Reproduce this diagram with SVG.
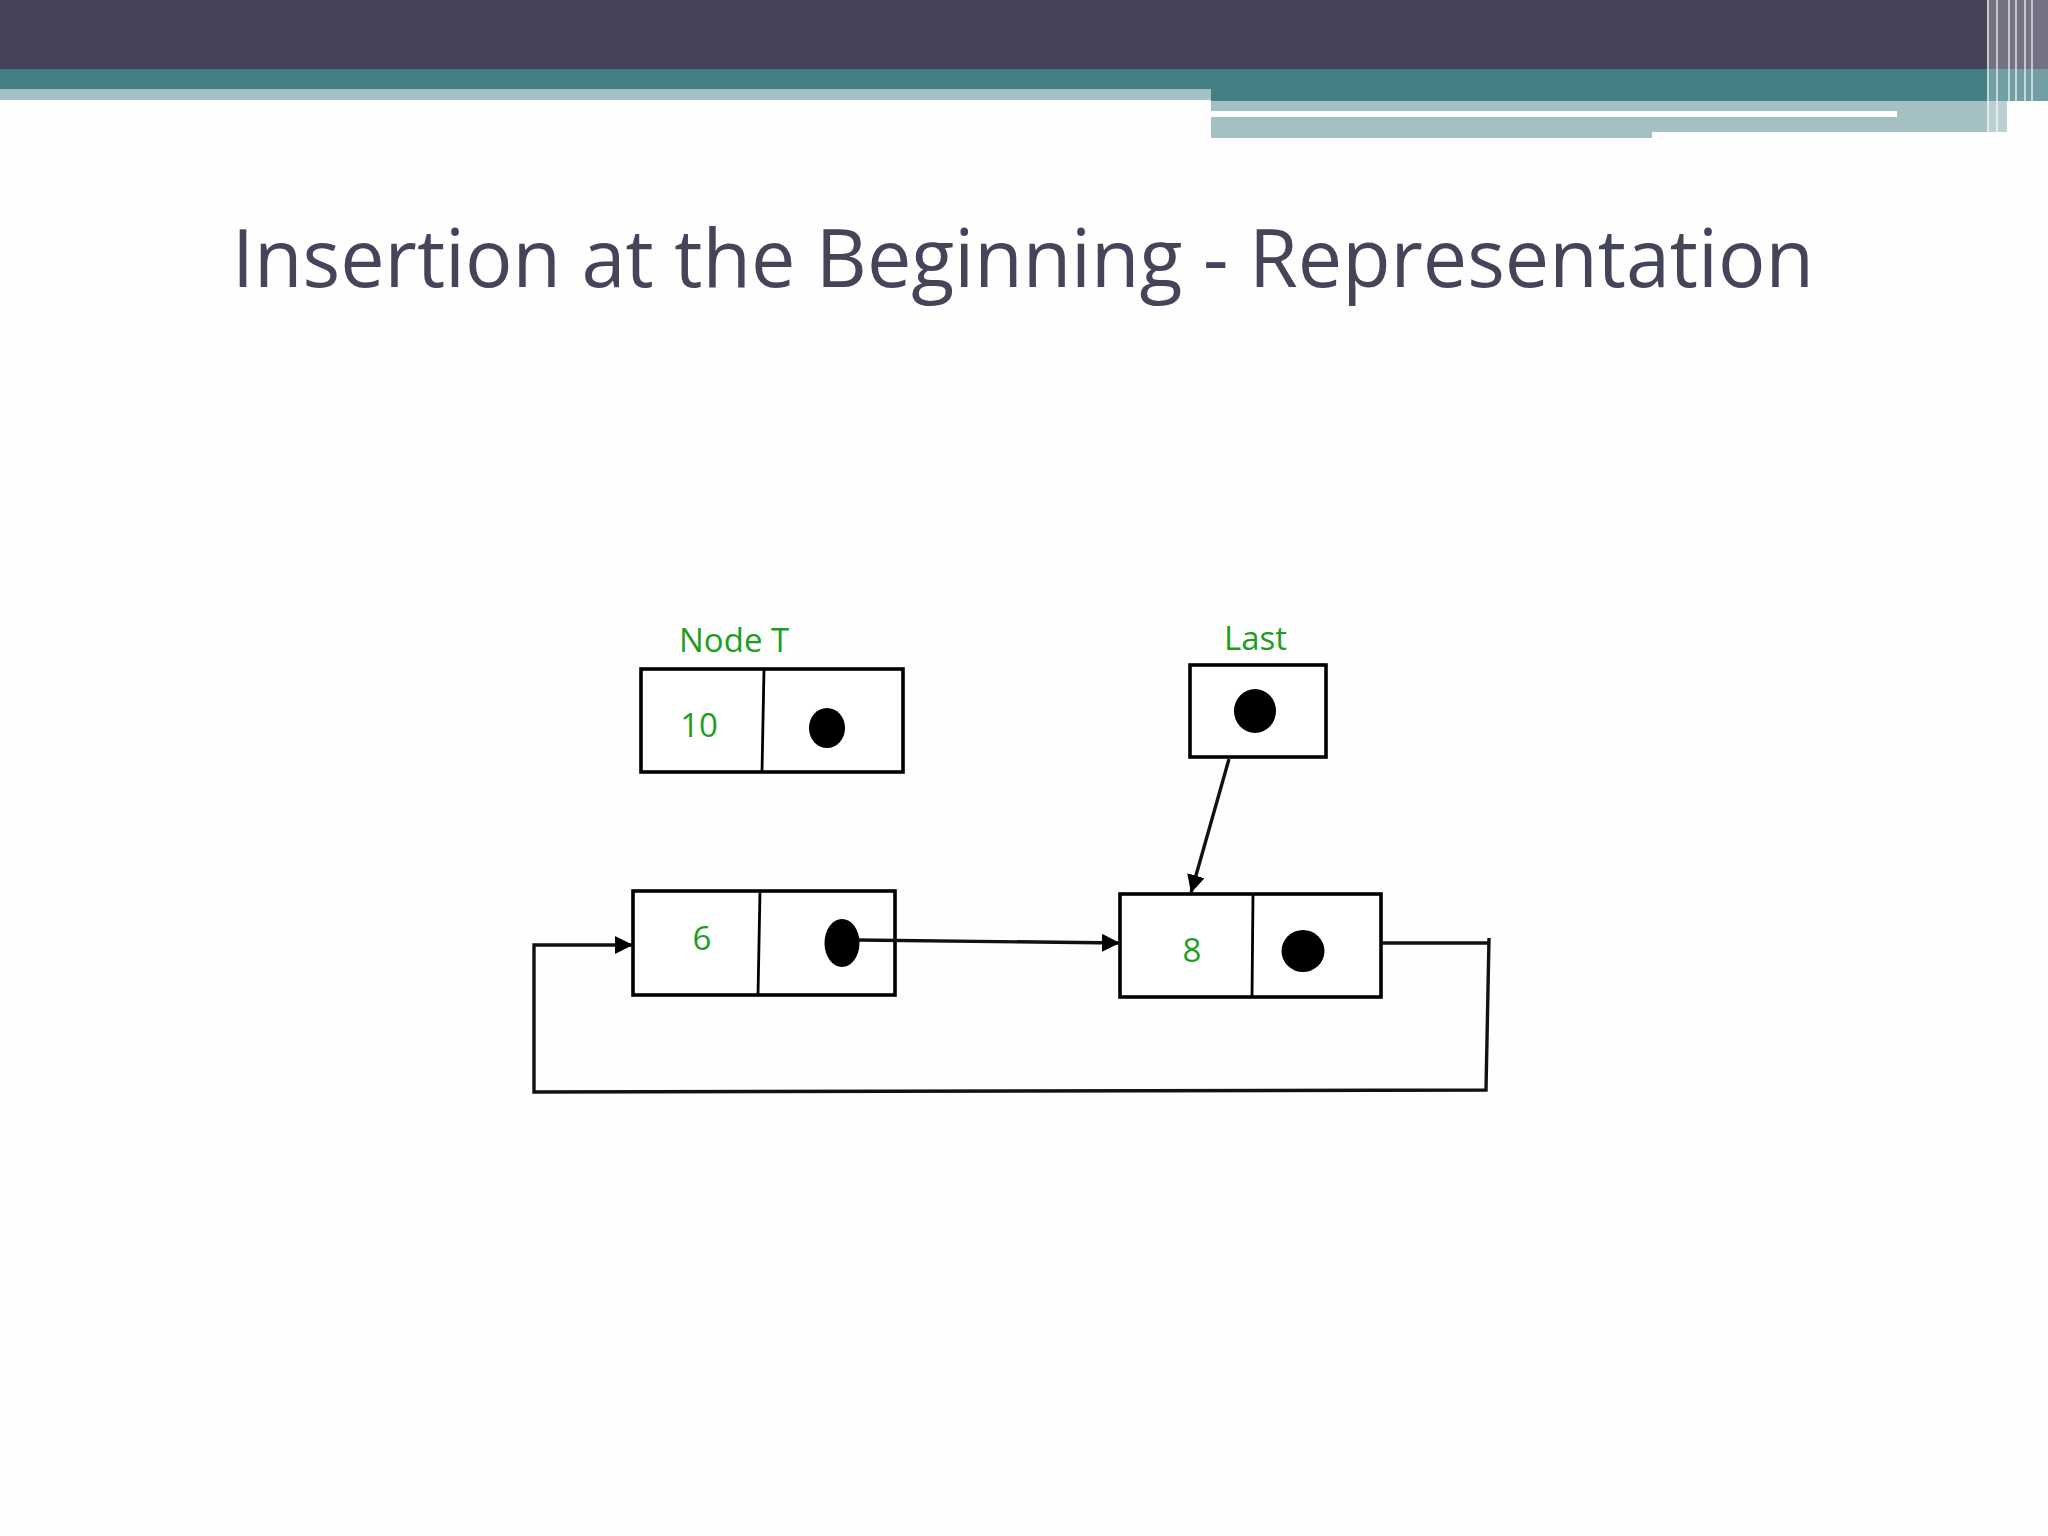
<svg xmlns="http://www.w3.org/2000/svg" width="2048" height="1536" viewBox="0 0 2048 1536">
<defs>
<style>
.box{fill:#fff;stroke:#000;stroke-width:3.6}
.div{stroke:#000;stroke-width:2.8;fill:none}
.dot{fill:#000}
.lbl{font-family:"Open Sans","Liberation Sans",sans-serif;fill:#1e9e1e;font-size:33px}
.val{font-family:"Open Sans","Liberation Sans",sans-serif;fill:#1e9e1e;font-size:33px;text-anchor:middle}
.con{stroke:#111;stroke-width:3.4;fill:none}
.title{font-family:"Open Sans","Liberation Sans",sans-serif;fill:#45455a;font-size:80px}
</style>
<marker id="ah" viewBox="0 0 10 10" refX="10" refY="5" markerWidth="18" markerHeight="18" markerUnits="userSpaceOnUse" orient="auto">
<path d="M0,0 L10,5 L0,10 Z" fill="#000"/>
</marker>
</defs>
<rect width="2048" height="1536" fill="#fefefe"/>
<g id="header">
<rect x="0" y="0" width="2048" height="69" fill="#45435a"/>
<rect x="0" y="69" width="2048" height="20" fill="#437f84"/>
<rect x="1211" y="89" width="837" height="12" fill="#437f84"/>
<rect x="0" y="89" width="1211" height="11" fill="#a3c0c5"/>
<rect x="1211" y="101" width="796" height="37" fill="#a5c0c3"/>
<rect x="1211" y="111" width="686" height="6" fill="#ffffff"/>
<rect x="1652" y="132" width="355" height="6" fill="#ffffff"/>
<rect x="1987" y="0" width="61" height="138" fill="#ffffff" opacity="0.25"/>
<g stroke="#ffffff" stroke-width="2" opacity="0.6">
<line x1="1988" y1="0" x2="1988" y2="138"/>
<line x1="1997" y1="0" x2="1997" y2="138"/>
<line x1="2009" y1="0" x2="2009" y2="138"/>
<line x1="2016" y1="0" x2="2016" y2="138"/>
<line x1="2025" y1="0" x2="2025" y2="138"/>
<line x1="2032" y1="0" x2="2032" y2="138"/>
</g>
</g>
<text class="title" x="232" y="287" textLength="1582" lengthAdjust="spacingAndGlyphs">Insertion at the Beginning - Representation</text>
<g id="nodeT">
<text class="lbl" x="679" y="652">Node T</text>
<rect class="box" x="641" y="669" width="262" height="103"/>
<line class="div" x1="764" y1="669" x2="762" y2="772"/>
<text class="val" x="699" y="737">10</text>
<ellipse class="dot" cx="827" cy="728" rx="18" ry="20"/>
</g>
<g id="last">
<text class="lbl" x="1224" y="650">Last</text>
<rect class="box" x="1190" y="665" width="136" height="92"/>
<ellipse class="dot" cx="1255" cy="711" rx="21" ry="22"/>
</g>
<g id="node6">
<rect class="box" x="633" y="891" width="262" height="104"/>
<line class="div" x1="760" y1="891" x2="758" y2="995"/>
<text class="val" x="702" y="950">6</text>
<ellipse class="dot" cx="842" cy="943" rx="17.5" ry="24"/>
</g>
<g id="node8">
<rect class="box" x="1120" y="894" width="261" height="103"/>
<line class="div" x1="1253" y1="894" x2="1252" y2="997"/>
<text class="val" x="1192" y="962">8</text>
<ellipse class="dot" cx="1303" cy="951" rx="21.5" ry="21"/>
</g>
<g id="connectors">
<line class="con" x1="1229" y1="759" x2="1191" y2="893" marker-end="url(#ah)"/>
<line class="con" x1="858" y1="940" x2="1120" y2="943" marker-end="url(#ah)"/>
<polyline class="con" points="1381,943 1489,943"/>
<polyline class="con" points="1489,938 1486,1090 534,1092 534,945 633,945" marker-end="url(#ah)"/>
</g>
</svg>
